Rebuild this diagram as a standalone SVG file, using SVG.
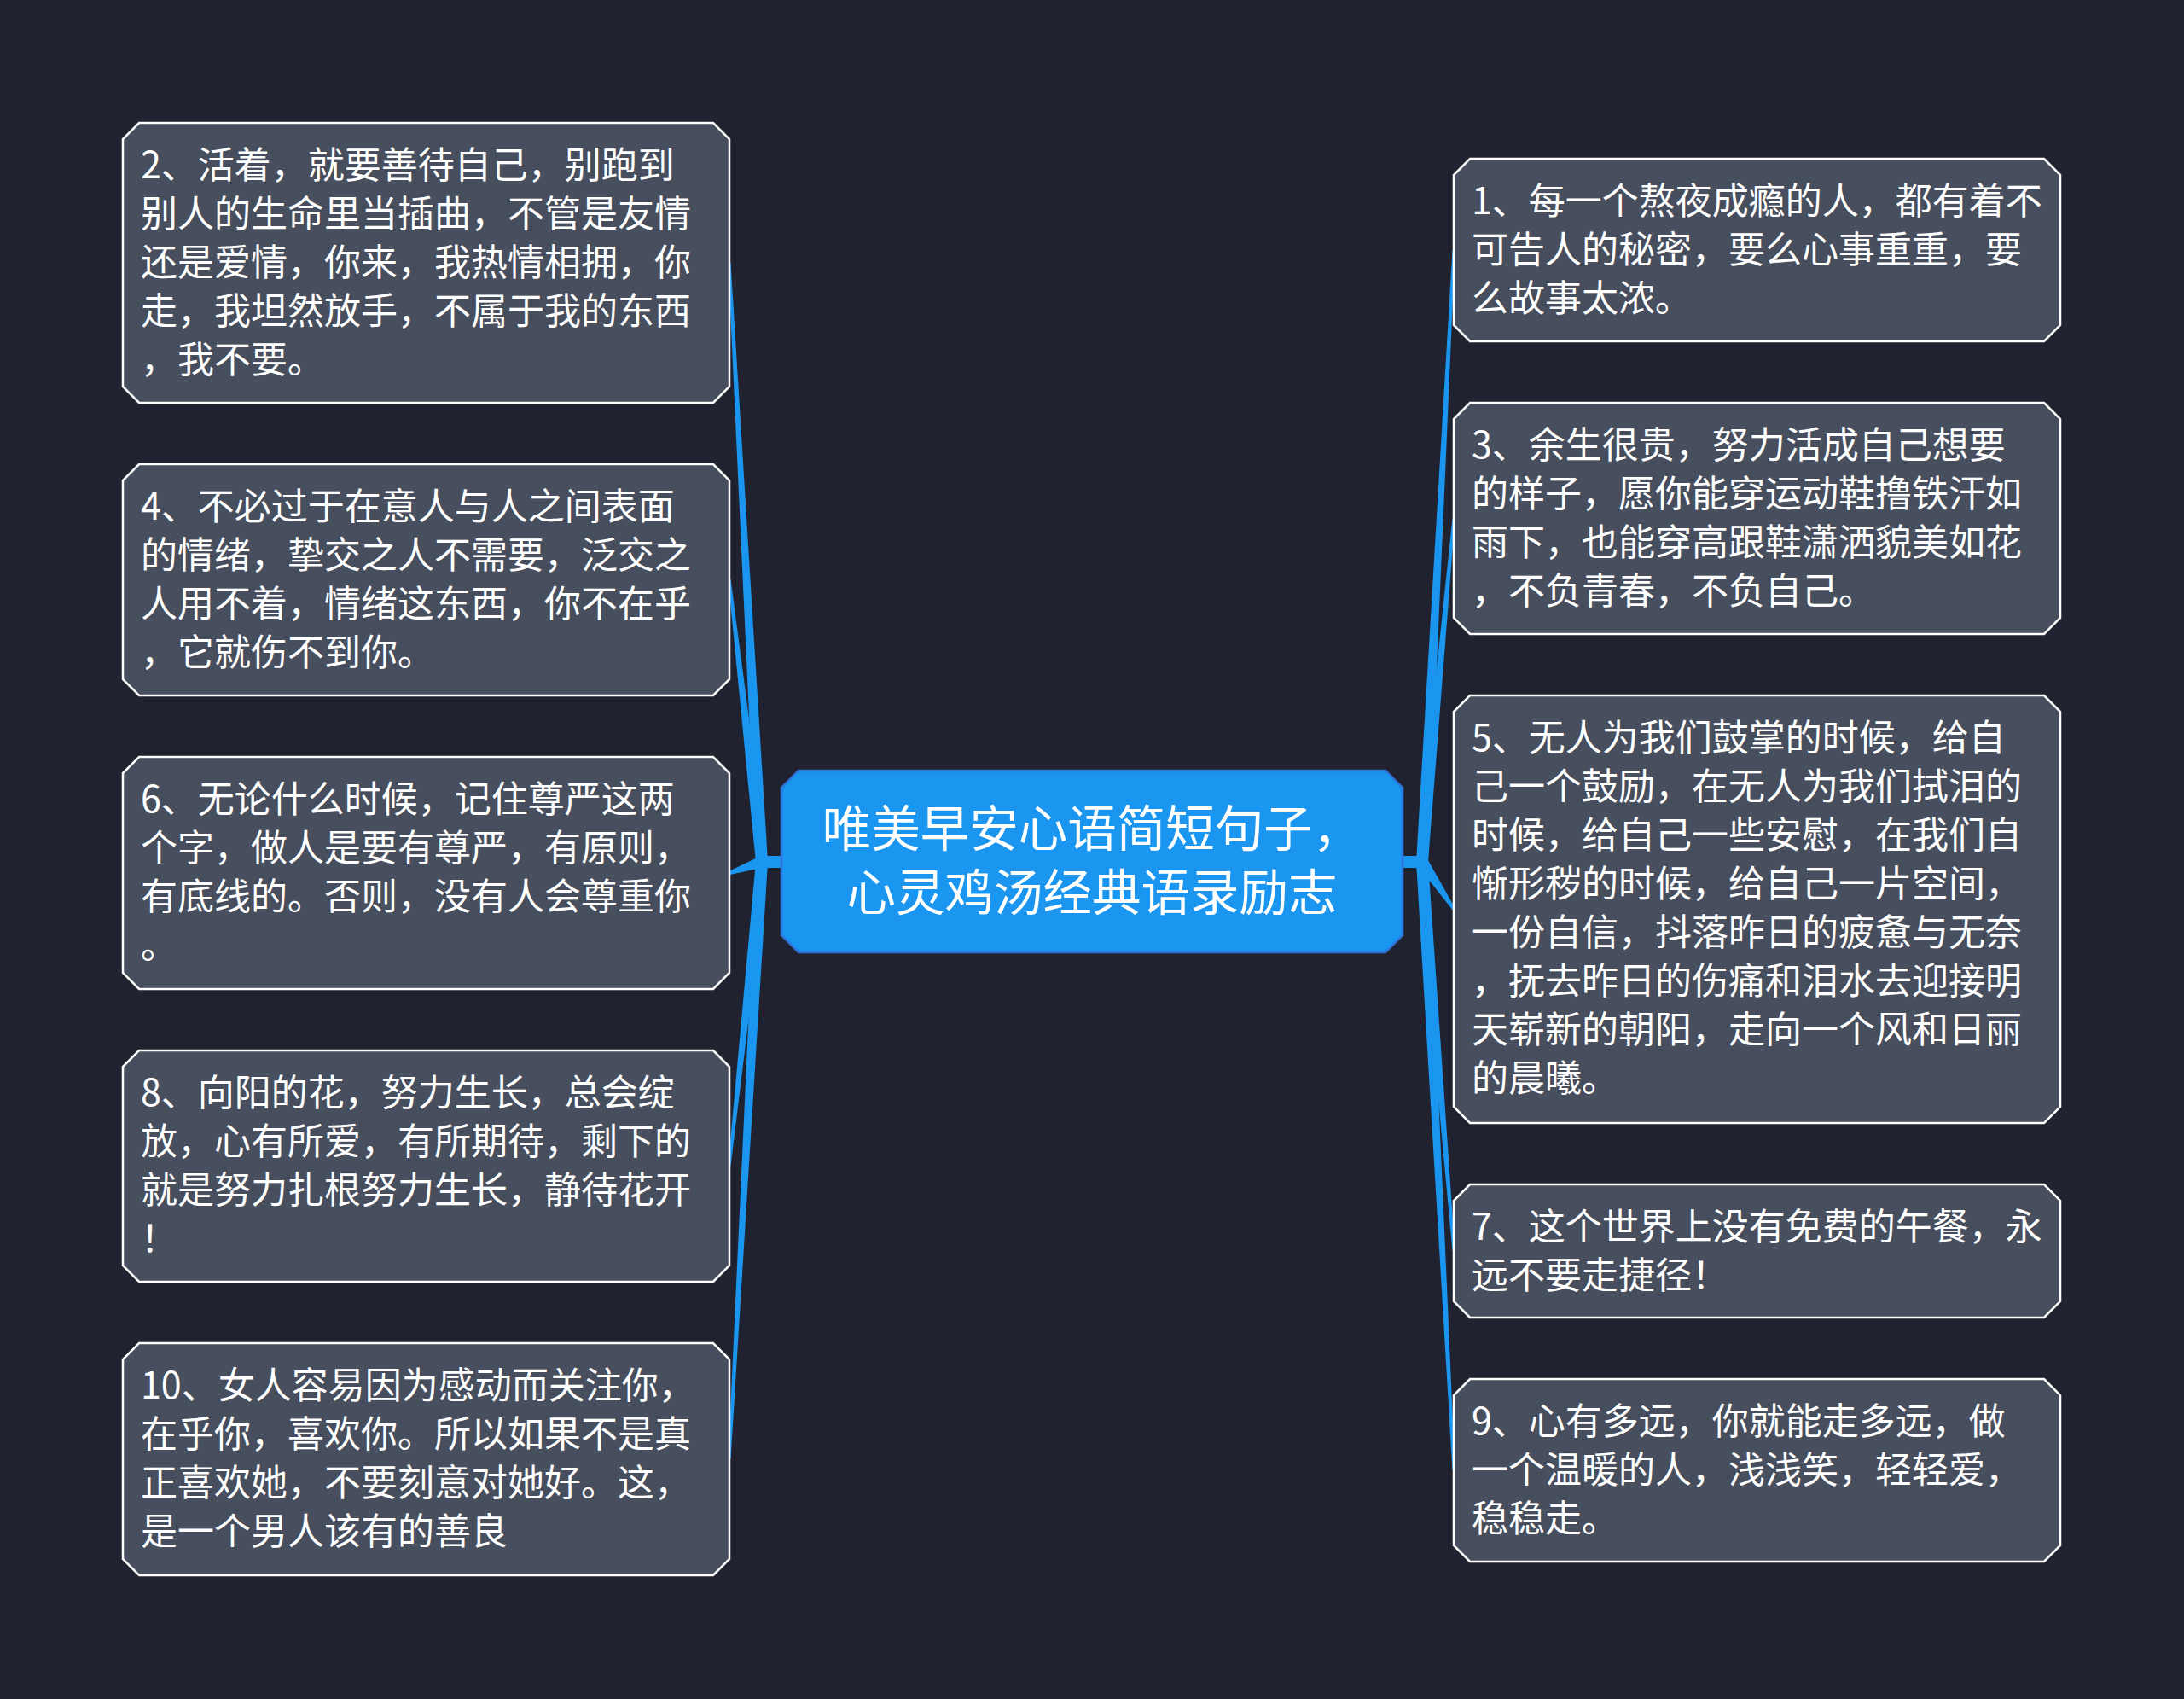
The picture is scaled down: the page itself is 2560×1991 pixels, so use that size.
<svg xmlns="http://www.w3.org/2000/svg" width="2560" height="1991" viewBox="0 0 2560 1991">
<style>
.bg{fill:#20232f}
.node{fill:#474e5d;stroke:#ffffff;stroke-width:2.5}
.center{fill:#1a96f0;stroke:#2f72d8;stroke-width:2.5}
.conn{fill:#1a96f0;stroke:none}
.t{font-family:"Noto Sans CJK SC","Noto Sans",sans-serif;font-size:43px;fill:#ffffff}
.ct{font-family:"Noto Sans CJK SC","Noto Sans",sans-serif;font-size:57.5px;fill:#ffffff;text-anchor:middle}
</style>
<rect class="bg" x="0" y="0" width="2560" height="1991"/>

<g id="connectors">
  <rect class="conn" x="890" y="1003" width="28" height="14"/>
  <rect class="conn" x="1642" y="1003" width="28" height="14"/>
  <polygon class="conn" points="900,1009.6 856.5,307.9 853.5,308.1 886,1010.4"/>
  <polygon class="conn" points="900,1009.2 856.5,678.8 853.5,679.2 886,1010.8"/>
  <polygon class="conn" points="895.3,1016.6 855.6,1025 854.4,1021 890.7,1003.4"/>
  <polygon class="conn" points="900,1010.7 856.5,1366.2 853.5,1365.8 886,1009.3"/>
  <polygon class="conn" points="900,1010.4 856.5,1710.1 853.5,1709.9 886,1009.6"/>
  <polygon class="conn" points="1660,1010.4 1702.5,292.9 1705.5,293.1 1674,1009.6"/>
  <polygon class="conn" points="1660,1010.8 1702.5,607.3 1705.5,607.7 1674,1009.2"/>
  <polygon class="conn" points="1661.2,1013.9 1702.8,1066.5 1705.2,1063.5 1672.8,1006.1"/>
  <polygon class="conn" points="1660,1009.3 1702.5,1465.8 1705.5,1466.2 1674,1010.7"/>
  <polygon class="conn" points="1660,1009.6 1702.5,1722.9 1705.5,1723.1 1674,1010.4"/>
</g>

<g id="center-node">
  <polygon class="center" points="936,903 1624,903 1644,923 1644,1096 1624,1116 936,1116 916,1096 916,923"/>
  <text class="ct"><tspan x="1280" y="992">唯美早安心语简短句子，</tspan><tspan x="1280" y="1067">心灵鸡汤经典语录励志</tspan></text>
</g>

<g id="node-2">
  <polygon class="node" points="163,144 836,144 855,163 855,453 836,472 163,472 144,453 144,163"/>
  <text class="t"><tspan x="165" y="209">2、活着，就要善待自己，别跑到</tspan><tspan x="165" y="266">别人的生命里当插曲，不管是友情</tspan><tspan x="165" y="323">还是爱情，你来，我热情相拥，你</tspan><tspan x="165" y="380">走，我坦然放手，不属于我的东西</tspan><tspan x="165" y="437">，我不要。</tspan></text>
</g>

<g id="node-4">
  <polygon class="node" points="163,544 836,544 855,563 855,796 836,815 163,815 144,796 144,563"/>
  <text class="t"><tspan x="165" y="609">4、不必过于在意人与人之间表面</tspan><tspan x="165" y="666">的情绪，挚交之人不需要，泛交之</tspan><tspan x="165" y="723">人用不着，情绪这东西，你不在乎</tspan><tspan x="165" y="780">，它就伤不到你。</tspan></text>
</g>

<g id="node-6">
  <polygon class="node" points="163,887 836,887 855,906 855,1140 836,1159 163,1159 144,1140 144,906"/>
  <text class="t"><tspan x="165" y="952">6、无论什么时候，记住尊严这两</tspan><tspan x="165" y="1009">个字，做人是要有尊严，有原则，</tspan><tspan x="165" y="1066">有底线的。否则，没有人会尊重你</tspan><tspan x="165" y="1123">。</tspan></text>
</g>

<g id="node-8">
  <polygon class="node" points="163,1231 836,1231 855,1250 855,1483 836,1502 163,1502 144,1483 144,1250"/>
  <text class="t"><tspan x="165" y="1296">8、向阳的花，努力生长，总会绽</tspan><tspan x="165" y="1353">放，心有所爱，有所期待，剩下的</tspan><tspan x="165" y="1410">就是努力扎根努力生长，静待花开</tspan><tspan x="165" y="1467">！</tspan></text>
</g>

<g id="node-10">
  <polygon class="node" points="163,1574 836,1574 855,1593 855,1827 836,1846 163,1846 144,1827 144,1593"/>
  <text class="t"><tspan x="165" y="1639">10、女人容易因为感动而关注你，</tspan><tspan x="165" y="1696">在乎你，喜欢你。所以如果不是真</tspan><tspan x="165" y="1753">正喜欢她，不要刻意对她好。这，</tspan><tspan x="165" y="1810">是一个男人该有的善良</tspan></text>
</g>

<g id="node-1">
  <polygon class="node" points="1723,186 2396,186 2415,205 2415,381 2396,400 1723,400 1704,381 1704,205"/>
  <text class="t"><tspan x="1725" y="251">1、每一个熬夜成瘾的人，都有着不</tspan><tspan x="1725" y="308">可告人的秘密，要么心事重重，要</tspan><tspan x="1725" y="365">么故事太浓。</tspan></text>
</g>

<g id="node-3">
  <polygon class="node" points="1723,472 2396,472 2415,491 2415,724 2396,743 1723,743 1704,724 1704,491"/>
  <text class="t"><tspan x="1725" y="537">3、余生很贵，努力活成自己想要</tspan><tspan x="1725" y="594">的样子，愿你能穿运动鞋撸铁汗如</tspan><tspan x="1725" y="651">雨下，也能穿高跟鞋潇洒貌美如花</tspan><tspan x="1725" y="708">，不负青春，不负自己。</tspan></text>
</g>

<g id="node-5">
  <polygon class="node" points="1723,815 2396,815 2415,834 2415,1297 2396,1316 1723,1316 1704,1297 1704,834"/>
  <text class="t"><tspan x="1725" y="880">5、无人为我们鼓掌的时候，给自</tspan><tspan x="1725" y="937">己一个鼓励，在无人为我们拭泪的</tspan><tspan x="1725" y="994">时候，给自己一些安慰，在我们自</tspan><tspan x="1725" y="1051">惭形秽的时候，给自己一片空间，</tspan><tspan x="1725" y="1108">一份自信，抖落昨日的疲惫与无奈</tspan><tspan x="1725" y="1165">，抚去昨日的伤痛和泪水去迎接明</tspan><tspan x="1725" y="1222">天崭新的朝阳，走向一个风和日丽</tspan><tspan x="1725" y="1279">的晨曦。</tspan></text>
</g>

<g id="node-7">
  <polygon class="node" points="1723,1388 2396,1388 2415,1407 2415,1525 2396,1544 1723,1544 1704,1525 1704,1407"/>
  <text class="t"><tspan x="1725" y="1453">7、这个世界上没有免费的午餐，永</tspan><tspan x="1725" y="1510">远不要走捷径！</tspan></text>
</g>

<g id="node-9">
  <polygon class="node" points="1723,1616 2396,1616 2415,1635 2415,1811 2396,1830 1723,1830 1704,1811 1704,1635"/>
  <text class="t"><tspan x="1725" y="1681">9、心有多远，你就能走多远，做</tspan><tspan x="1725" y="1738">一个温暖的人，浅浅笑，轻轻爱，</tspan><tspan x="1725" y="1795">稳稳走。</tspan></text>
</g>
</svg>
